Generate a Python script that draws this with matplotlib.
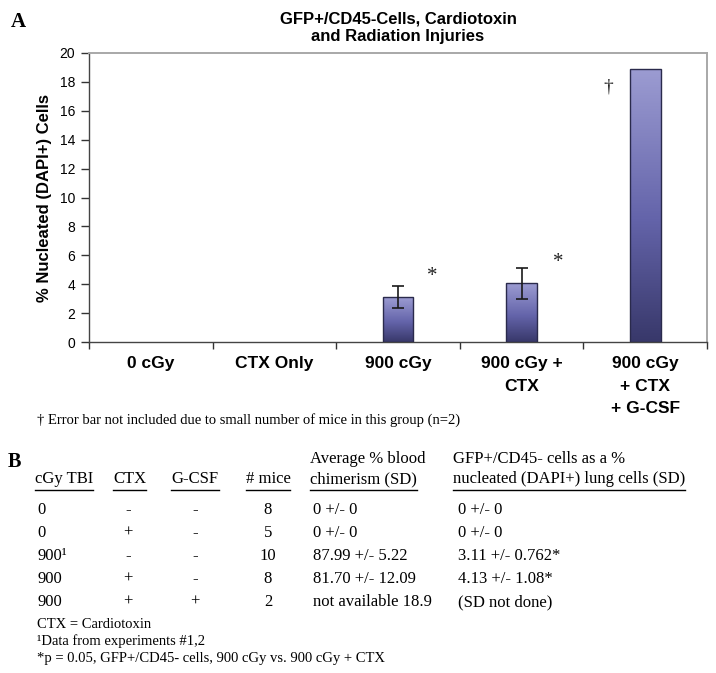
import numpy as np
import matplotlib
matplotlib.use("Agg")
import matplotlib.pyplot as plt
from matplotlib.colors import LinearSegmentedColormap
from matplotlib.lines import Line2D

# Datos panel A
grupos = ["0 cGy", "CTX Only", "900 cGy", "900 cGy +\nCTX", "900 cGy\n+ CTX\n+ G-CSF"]
valores = [0.0, 0.0, 3.11, 4.05, 18.9]
errores = [np.nan, np.nan, 0.762, 1.08, np.nan]
y_ticks = list(range(0, 21, 2))

# marcas sobre las barras: (x, y, simbolo)
marcas = [(2.28, 4.25, "*"), (3.30, 5.20, "*"), (3.70, 17.35, "\u2020")]

# Datos panel B (tabla)
encabezados = ["cGy TBI", "CTX", "G-CSF", "# mice",
               "Average % blood\nchimerism (SD)",
               "GFP+/CD45- cells as a %\nnucleated (DAPI+) lung cells (SD)"]
col_tbi = ["0", "0", "900\u00b9", "900", "900"]
col_ctx = ["-", "+", "-", "+", "+"]
col_gcsf = ["-", "-", "-", "-", "+"]
col_mice = ["8", "5", "10", "8", "2"]
col_chim = ["0 +/- 0", "0 +/- 0", "87.99 +/- 5.22", "81.70 +/- 12.09", "not available 18.9"]
col_lung = ["0 +/- 0", "0 +/- 0", "3.11 +/- 0.762*", "4.13 +/- 1.08*", "(SD not done)"]
notas = ["CTX = Cardiotoxin",
         "\u00b9Data from experiments #1,2",
         "*p = 0.05, GFP+/CD45- cells, 900 cGy vs. 900 cGy + CTX"]

SANS = "Liberation Sans"
SERIF = "Liberation Serif"
W, H = 716, 673


def px(x, y):
    return x / W, 1 - y / H


fig = plt.figure(figsize=(W / 100, H / 100), dpi=100)
ax = fig.add_axes([89 / W, 1 - 342 / H, (707 - 89) / W, (342 - 53) / H])

x = np.arange(len(grupos))
barras = ax.bar(x, valores, width=0.25, facecolor="none", edgecolor="#2a2a4c",
                linewidth=1.0, zorder=3)

# degradado vertical dentro de cada barra
cmap = LinearSegmentedColormap.from_list(
    "barra", [(0.0, "#38386a"), (0.45, "#6464aa"), (1.0, "#9c9cd2")])
grad = np.linspace(0, 1, 256).reshape(-1, 1)
for b in barras:
    if b.get_height() <= 0:
        b.set_linewidth(0)
        continue
    x0 = b.get_x()
    im = ax.imshow(grad, extent=[x0, x0 + b.get_width(), 0, b.get_height()],
                   origin="lower", aspect="auto", cmap=cmap, zorder=2,
                   interpolation="bilinear")
    im.set_clip_path(b)

ax.errorbar(x, valores, yerr=errores, fmt="none", ecolor="#1a1a1a",
            elinewidth=1.2, capsize=4.5, capthick=1.2, zorder=4)

for mx, my, s in marcas:
    size = 14 if s == "\u2020" else 15
    ax.text(mx, my, s, ha="center", va="baseline", fontsize=size,
            family=SERIF, color="#222222")

ax.set_xlim(-0.5, len(grupos) - 0.5)
ax.set_ylim(0, 20)
ax.set_yticks(y_ticks)
ax.set_yticklabels([str(t) for t in y_ticks], family=SANS, fontsize=10)
ax.set_xticks(x)
ax.set_xticklabels(grupos, family=SANS, fontsize=12.5, fontweight="bold",
                   linespacing=1.65)
ax.set_xticks(np.arange(-0.5, len(grupos)), minor=True)
ax.tick_params(axis="x", which="major", length=0, pad=10)
ax.tick_params(axis="x", which="minor", length=5, width=1, color="#333333",
               direction="out")
ax.tick_params(axis="y", length=6, width=1, color="#333333", pad=4)

for lado in ["top", "right"]:
    ax.spines[lado].set_color("#a8a8a8")
    ax.spines[lado].set_linewidth(1.4)
for lado in ["left", "bottom"]:
    ax.spines[lado].set_color("#444444")
    ax.spines[lado].set_linewidth(1.0)

fig.text(*px(45, 197.5), "% Nucleated (DAPI+) Cells", rotation=90,
         ha="center", va="center", family=SANS, fontsize=12, fontweight="bold")
fig.text(*px(398, 23), "GFP+/CD45-Cells, Cardiotoxin", ha="center",
         va="baseline", family=SANS, fontsize=12, fontweight="bold")
fig.text(*px(398, 41), "and Radiation Injuries", ha="center",
         va="baseline", family=SANS, fontsize=12, fontweight="bold")
fig.text(*px(11, 27), "A", ha="left", va="baseline", family=SERIF,
         fontsize=15, fontweight="bold")
fig.text(*px(37, 424),
         "\u2020 Error bar not included due to small number of mice in this group (n=2)",
         ha="left", va="baseline", family=SERIF, fontsize=10.5)

# Panel B
fig.text(*px(8, 467), "B", ha="left", va="baseline", family=SERIF,
         fontsize=14.5, fontweight="bold")

col_x = [35, 129.5, 195, 268, 310, 453]
col_ha = ["left", "center", "center", "center", "left", "left"]
val_x = [37, 128, 195, 268, 313, 458]
filas_y = [514, 537, 560, 583, 606]
columnas = [col_tbi, col_ctx, col_gcsf, col_mice, col_chim, col_lung]
TAM = 12

enc_txt = []
for cx, ha, t in zip(col_x, col_ha, encabezados):
    lineas = t.split("\n")
    if len(lineas) == 2:
        fig.text(*px(cx, 463), lineas[0], ha=ha, va="baseline", family=SERIF,
                 fontsize=TAM)
    enc_txt.append(fig.text(*px(cx, 483), lineas[-1], ha=ha, va="baseline",
                            family=SERIF, fontsize=TAM))

for vx, ha, col in zip(val_x, col_ha, columnas):
    for fy, v in zip(filas_y, col):
        fig.text(*px(vx, fy), v, ha=ha, va="baseline", family=SERIF,
                 fontsize=TAM)

for ny, n in zip([628, 645, 662], notas):
    fig.text(*px(37, ny), n, ha="left", va="baseline", family=SERIF,
             fontsize=10.5)

# subrayado de encabezados segun el ancho del texto
fig.canvas.draw()
rend = fig.canvas.get_renderer()
for t in enc_txt:
    bb = t.get_window_extent(rend)
    fig.add_artist(Line2D([bb.x0 / W, bb.x1 / W], [1 - 490 / H] * 2,
                          color="black", linewidth=1.0,
                          transform=fig.transFigure))

fig.savefig("out.png", dpi=100)
